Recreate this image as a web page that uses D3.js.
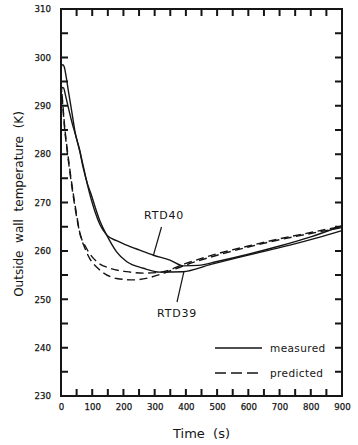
<!DOCTYPE html>
<html>
<head>
<meta charset="utf-8">
<script src="https://cdn.jsdelivr.net/npm/d3@7"></script>
<style>
  html, body { margin: 0; padding: 0; background: #fff; }
  svg { display: block; }
  text { font-family: "DejaVu Sans", sans-serif; fill: #151515; }
</style>
</head>
<body>
<svg id="chart" width="358" height="445"></svg>
<script>
// Measured outside wall temperature, sensor RTD39
const timeRTD39 = [0, 5, 10, 15, 23, 35, 45, 60, 71, 85, 97, 110, 125, 146, 178, 210, 264, 317, 390, 480, 573, 650, 733, 820, 900];
const tempRTD39 = [297.8, 298.5, 298.1, 296.6, 293.3, 288.6, 284.6, 280.6, 277.2, 273.8, 271.6, 268.9, 266.1, 263.3, 259.8, 257.8, 256.4, 255.6, 255.7, 257.2, 258.7, 259.9, 261.2, 262.7, 264.2];

// Measured outside wall temperature, sensor RTD40
const timeRTD40 = [0, 3, 8, 15, 25, 35, 45, 60, 71, 85, 97, 110, 125, 146, 178, 210, 250, 296, 349, 392, 440, 500, 600, 700, 800, 900];
const tempRTD40 = [292.8, 293.8, 293.7, 292.0, 289.2, 286.6, 284.3, 280.8, 277.6, 273.6, 270.6, 267.9, 265.4, 263.3, 262.1, 261.2, 260.2, 259.1, 258.1, 256.9, 257.0, 257.8, 259.3, 261.0, 262.9, 265.2];

// Predicted temperature at the RTD40 location
const timePred40 = [0, 5, 12, 20, 30, 40, 50, 60, 82, 114, 157, 210, 264, 320, 400, 500, 600, 700, 800, 900];
const tempPred40 = [294.5, 290.5, 285.0, 280.5, 275.5, 271.0, 267.0, 263.8, 260.5, 257.8, 256.4, 255.7, 255.4, 255.6, 257.4, 259.4, 261.0, 262.5, 263.8, 265.1];

// Predicted temperature at the RTD39 location
const timePred39 = [0, 5, 12, 20, 30, 40, 50, 61, 75, 93, 115, 135, 178, 232, 285, 330, 400, 500, 600, 700, 800, 900];
const tempPred39 = [295.0, 291.0, 285.5, 281.0, 276.0, 271.5, 267.5, 263.5, 260.8, 258.3, 256.6, 255.5, 254.3, 254.0, 254.5, 255.4, 257.1, 259.1, 260.8, 262.3, 263.6, 264.8];

// Axis ticks and labels
const xMajorTicks = [0, 100, 200, 300, 400, 500, 600, 700, 800, 900];
const xMinorTicks = [50, 150, 250, 350, 450, 550, 650, 750, 850];
const yMajorTicks = [230, 240, 250, 260, 270, 280, 290, 300, 310];
const yMinorTicks = [235, 245, 255, 265, 275, 285, 295, 305];

const legendLabels = ["measured", "predicted"];
const curveLabels = ["RTD40", "RTD39"];

const svg = d3.select("#chart");
const ink = "#151515";

const x = d3.scaleLinear().domain([0, 900]).range([61, 342]);
const y = d3.scaleLinear().domain([230, 310]).range([396, 9]);

// Tick labels from d3 axes (tick marks are drawn separately, pointing inward)
function labelAxis(axis, transform) {
  const g = svg.append("g").attr("transform", transform).call(axis);
  g.select(".domain").remove();
  g.selectAll(".tick line").remove();
  g.selectAll("text")
    .style("font-size", "8.6px")
    .attr("fill", ink)
    .attr("stroke", ink)
    .attr("stroke-width", 0.25);
}
labelAxis(d3.axisBottom(x).tickValues(xMajorTicks).tickSize(0).tickPadding(8).tickFormat(d3.format("d")),
  `translate(0,${y(230)})`);
labelAxis(d3.axisLeft(y).tickValues(yMajorTicks).tickSize(0).tickPadding(10).tickFormat(d3.format("d")),
  `translate(${x(0)},0)`);

// Inward tick marks on all four sides, as one path
const allX = xMajorTicks.concat(xMinorTicks);
const allY = yMajorTicks.concat(yMinorTicks);
const tickLen = 7;
let tickPath = "";
allX.forEach(v => {
  tickPath += `M${x(v)},${y(230)}V${y(230) - tickLen}`;
  tickPath += `M${x(v)},${y(310)}V${y(310) + tickLen}`;
});
allY.forEach(v => {
  tickPath += `M${x(0)},${y(v)}H${x(0) + tickLen}`;
  tickPath += `M${x(900)},${y(v)}H${x(900) - tickLen}`;
});
svg.append("path")
  .attr("d", tickPath)
  .style("fill", "none")
  .style("stroke", ink)
  .style("stroke-width", "2px");

// Plot frame
svg.append("rect")
  .attr("x", x(0)).attr("y", y(310))
  .attr("width", x(900) - x(0)).attr("height", y(230) - y(310))
  .attr("fill", "none").attr("stroke", ink).attr("stroke-width", 2);

// Curves
const line = d3.line().x(d => x(d[0])).y(d => y(d[1])).curve(d3.curveMonotoneX);
const series = [
  { t: timeRTD39, v: tempRTD39, dash: null },
  { t: timeRTD40, v: tempRTD40, dash: null },
  { t: timePred40, v: tempPred40, dash: "8,4.5" },
  { t: timePred39, v: tempPred39, dash: "8,4.5" }
];
series.forEach(s => {
  svg.append("path")
    .datum(d3.zip(s.t, s.v))
    .attr("d", line)
    .attr("fill", "none")
    .attr("stroke", ink)
    .attr("stroke-width", 1.4)
    .attr("stroke-dasharray", s.dash);
});

// Curve annotations with leader lines
const annotations = [
  { label: curveLabels[0], t: 296, v: 259.1, lx: 161.5, ly: 227, tx: 164, ty: 219 },
  { label: curveLabels[1], t: 394, v: 255.8, lx: 177, ly: 302, tx: 177, ty: 317 }
];
annotations.forEach(a => {
  svg.append("line")
    .attr("x1", x(a.t)).attr("y1", y(a.v))
    .attr("x2", a.lx).attr("y2", a.ly)
    .attr("stroke", ink).attr("stroke-width", 1.2);
  svg.append("text")
    .attr("x", a.tx).attr("y", a.ty)
    .attr("text-anchor", "middle")
    .style("font-size", "11px")
    .style("letter-spacing", "0.8px")
    .text(a.label);
});

// Legend
const legendRows = [
  { label: legendLabels[0], dash: null, yPos: 348 },
  { label: legendLabels[1], dash: "11,5", yPos: 373 }
];
legendRows.forEach(r => {
  svg.append("line")
    .attr("x1", 215).attr("x2", 262)
    .attr("y1", r.yPos).attr("y2", r.yPos)
    .attr("stroke", ink).attr("stroke-width", 1.3)
    .attr("stroke-dasharray", r.dash);
  svg.append("text")
    .attr("x", 270).attr("y", r.yPos + 3.5)
    .style("font-size", "10.5px")
    .style("letter-spacing", "0.4px")
    .text(r.label);
});

// Axis titles
svg.append("text")
  .attr("x", (x(0) + x(900)) / 2).attr("y", 438)
  .attr("text-anchor", "middle")
  .style("font-size", "13px")
  .style("white-space", "pre")
  .text("Time  (s)");

svg.append("text")
  .attr("transform", `translate(23,${204}) rotate(-90)`)
  .attr("text-anchor", "middle")
  .style("font-size", "12px")
  .style("white-space", "pre")
  .text("Outside  wall  temperature  (K)");
</script>
</body>
</html>
